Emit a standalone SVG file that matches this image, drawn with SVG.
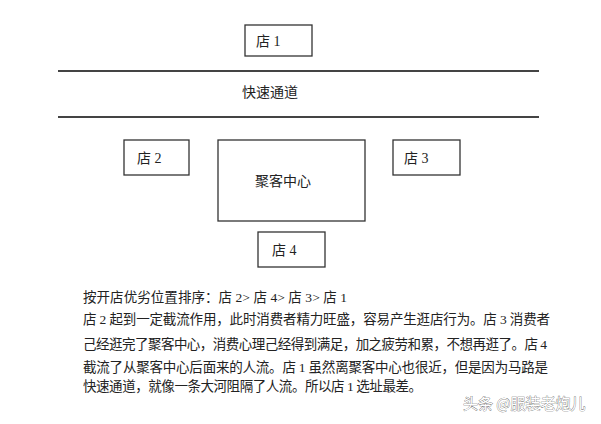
<svg xmlns="http://www.w3.org/2000/svg" width="601" height="424" viewBox="0 0 601 424">
<style>
.box{fill:#fff;stroke:#333;stroke-width:1.3}
.road{stroke:#444;stroke-width:1.8}
.lbl{font-family:"Liberation Serif","Noto Sans CJK SC",serif;font-size:14px;fill:#222}
.cn{font-family:"Noto Sans CJK SC",sans-serif;font-size:14px;fill:#222}
.para{font-family:"Liberation Serif","Noto Sans CJK SC",serif;font-size:13.5px;fill:#222}
.wm{font-family:"Noto Sans CJK SC",sans-serif;font-size:15px;fill:#fff;stroke:#555;stroke-width:0.6;paint-order:stroke}
</style>
<rect width="601" height="424" fill="#fff"/>
<g id="connectors">
<line class="road" x1="58" y1="71" x2="539" y2="71"/>
<line class="road" x1="58" y1="117" x2="539" y2="117"/>
</g>
<g id="road-label"><text class="cn" x="270" y="97" text-anchor="middle">快速通道</text></g>
<g id="store1"><rect class="box" x="245" y="25" width="67" height="31"/><text class="lbl" x="256" y="46">店 1</text></g>
<g id="store2"><rect class="box" x="124" y="140" width="65" height="35"/><text class="lbl" x="137" y="163">店 2</text></g>
<g id="store3"><rect class="box" x="393" y="140" width="67" height="35"/><text class="lbl" x="404" y="163">店 3</text></g>
<g id="center"><rect class="box" x="218" y="140" width="147" height="81"/><text class="cn" x="283" y="186" text-anchor="middle">聚客中心</text></g>
<g id="store4"><rect class="box" x="258" y="232" width="67" height="35"/><text class="lbl" x="272" y="255">店 4</text></g>
<g id="text">
<text class="para" x="83" y="302" textLength="264" lengthAdjust="spacing">按开店优劣位置排序：店 2&gt; 店 4&gt; 店 3&gt; 店 1</text>
<text class="para" x="83" y="324" textLength="467" lengthAdjust="spacing">店 2 起到一定截流作用，此时消费者精力旺盛，容易产生逛店行为。店 3 消费者</text>
<text class="para" x="83" y="349" textLength="464" lengthAdjust="spacing">己经逛完了聚客中心，消费心理己经得到满足，加之疲劳和累，不想再逛了。店 4</text>
<text class="para" x="83" y="372" textLength="465" lengthAdjust="spacing">截流了从聚客中心后面来的人流。店 1 虽然离聚客中心也很近，但是因为马路是</text>
<text class="para" x="83" y="391" textLength="339" lengthAdjust="spacing">快速通道，就像一条大河阻隔了人流。所以店 1 选址最差。</text>
</g>
<g id="watermark"><text class="wm" x="463" y="409">头条 @服装老炮儿</text></g>
</svg>
